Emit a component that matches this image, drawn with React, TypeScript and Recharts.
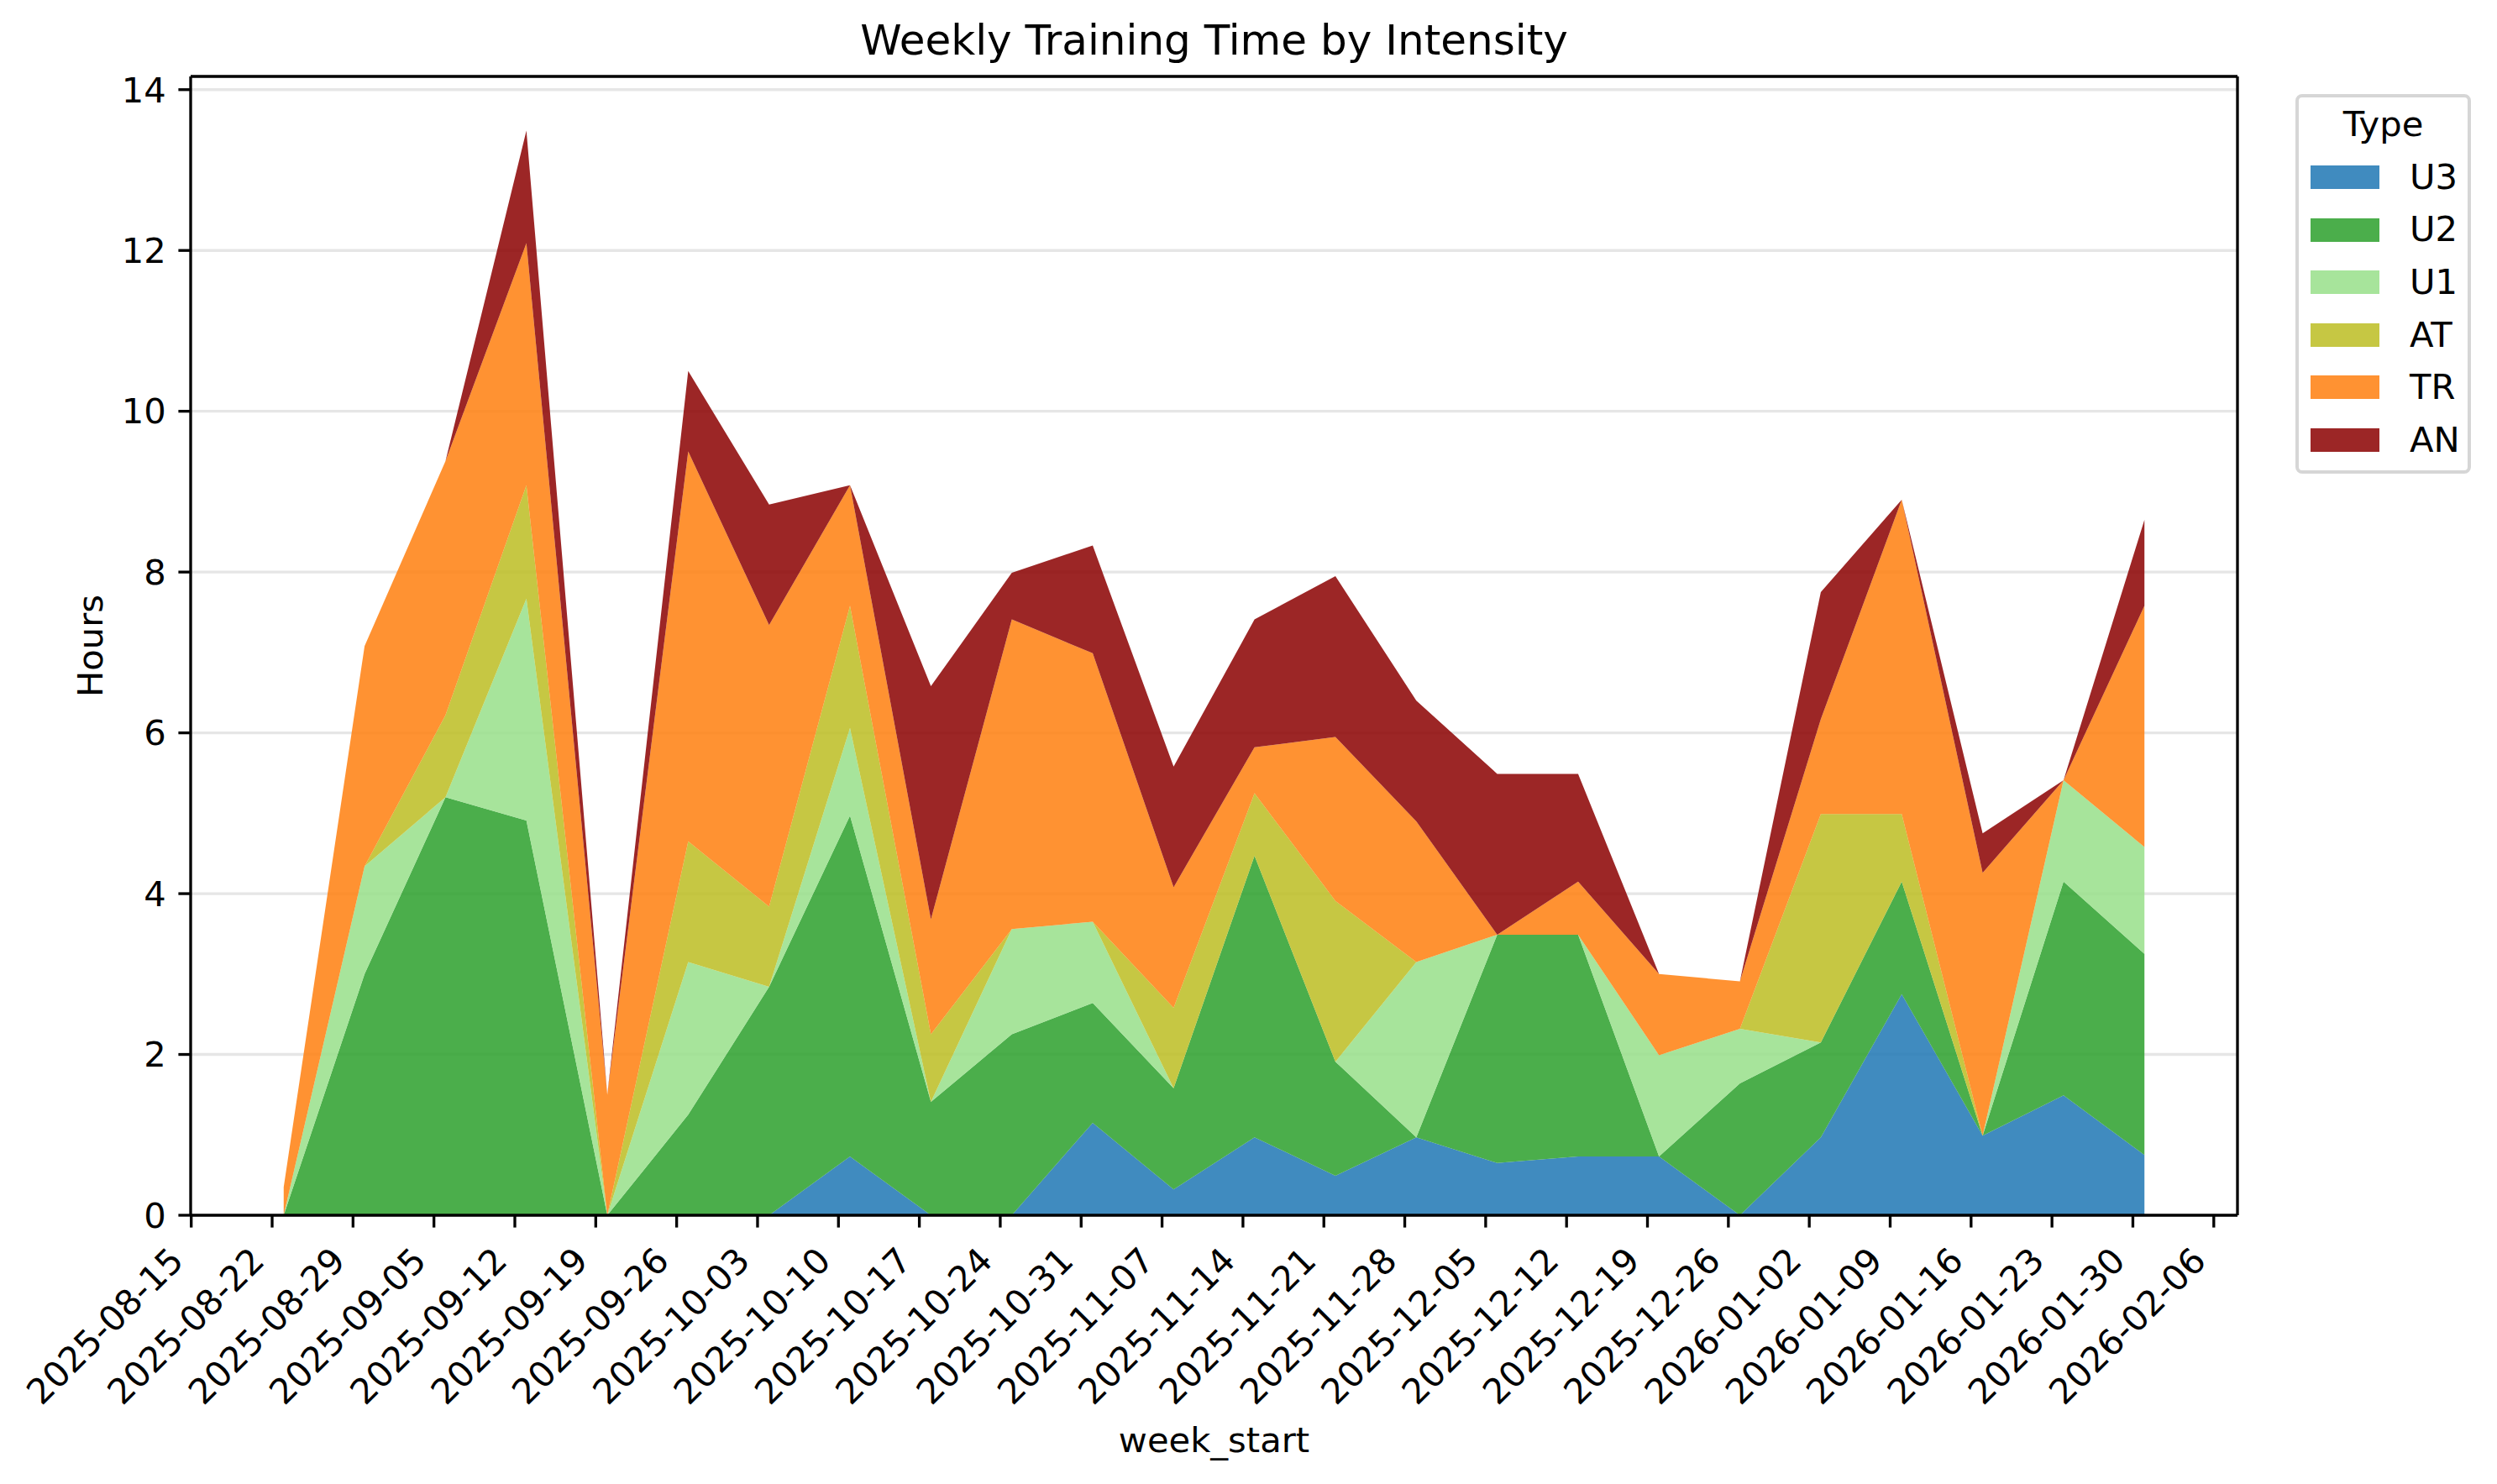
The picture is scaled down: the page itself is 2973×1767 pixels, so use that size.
import React from "react";
import { AreaChart, Area, XAxis, YAxis, CartesianGrid, Legend, ReferenceLine } from "recharts";

// weekly hours per intensity zone
const WEEK_START = [
  "2025-08-23", "2025-08-30", "2025-09-06", "2025-09-13", "2025-09-20", "2025-09-27",
  "2025-10-04", "2025-10-11", "2025-10-18", "2025-10-25", "2025-11-01", "2025-11-08",
  "2025-11-15", "2025-11-22", "2025-11-29", "2025-12-06", "2025-12-13", "2025-12-20",
  "2025-12-27", "2026-01-03", "2026-01-10", "2026-01-17", "2026-01-24", "2026-01-31",
];
const U3 = [0, 0, 0, 0, 0, 0, 0, 0.73, 0, 0, 1.15, 0.32, 0.97, 0.49, 0.97, 0.65, 0.73, 0.73, 0, 0.97, 2.75, 0.99, 1.49, 0.75];
const U2 = [0, 3.0, 5.2, 4.91, 0, 1.25, 2.84, 4.24, 1.41, 2.25, 1.49, 1.26, 3.5, 1.42, 0, 2.84, 2.76, 0, 1.64, 1.18, 1.4, 0, 2.66, 2.5];
const U1 = [0, 1.34, 0, 2.76, 0, 1.9, 0, 1.09, 0, 1.31, 1.01, 0, 0, 0, 2.18, 0, 0, 1.26, 0.68, 0, 0, 0, 1.26, 1.33];
const AT = [0, 0, 1.02, 1.41, 0, 1.5, 1.0, 1.52, 0.84, 0, 0, 1.0, 0.78, 2.0, 0, 0, 0, 0, 0, 2.84, 0.84, 0, 0, 0];
const TR = [0.35, 2.74, 3.16, 3.01, 1.5, 4.85, 3.5, 1.5, 1.43, 3.85, 3.34, 1.5, 0.57, 2.04, 1.75, 0, 0.66, 1.01, 0.59, 1.18, 3.91, 3.27, 0, 3.0];
const AN = [0, 0, 0, 1.4, 0, 1.0, 1.5, 0, 2.9, 0.58, 1.34, 1.5, 1.59, 2.0, 1.5, 2.0, 1.34, 0, 0, 1.58, 0, 0.49, 0, 1.07];

const TYPES = ["U3", "U2", "U1", "AT", "TR", "AN"];
const SERIES: Record<string, number[]> = { U3, U2, U1, AT, TR, AN };
const COLORS: Record<string, string> = {
  U3: "#1f77b4",
  U2: "#2ca02c",
  U1: "#98df8a",
  AT: "#bcbd22",
  TR: "#ff7f0e",
  AN: "#8b0000",
};

const TICK_DATES = [
  "2025-08-15", "2025-08-22", "2025-08-29", "2025-09-05", "2025-09-12", "2025-09-19",
  "2025-09-26", "2025-10-03", "2025-10-10", "2025-10-17", "2025-10-24", "2025-10-31",
  "2025-11-07", "2025-11-14", "2025-11-21", "2025-11-28", "2025-12-05", "2025-12-12",
  "2025-12-19", "2025-12-26", "2026-01-02", "2026-01-09", "2026-01-16", "2026-01-23",
  "2026-01-30", "2026-02-06",
];
const Y_TICKS = [0, 2, 4, 6, 8, 10, 12, 14];

const FONT = "DejaVu Sans";
const FS = 41.67;
const LW = 3.33;

const ORIGIN = Date.parse("2025-08-15T00:00:00Z");
const dayOf = (s: string) => (Date.parse(s + "T00:00:00Z") - ORIGIN) / 864e5;
const labelOf = (d: number) => new Date(ORIGIN + d * 864e5).toISOString().slice(0, 10);

const rows = WEEK_START.map((w, i) => {
  const row: Record<string, number | string> = { week: w, day: dayOf(w) };
  TYPES.forEach((t) => (row[t] = SERIES[t][i]));
  return row;
});

// matplotlib-style 5% x margins, sticky zero on y
const first = dayOf(WEEK_START[0]);
const last = dayOf(WEEK_START[WEEK_START.length - 1]);
const pad = (last - first) * 0.05;
const X_DOMAIN: [number, number] = [first - pad, last + pad];
const totals = WEEK_START.map((_, i) => TYPES.reduce((s, t) => s + SERIES[t][i], 0));
const Y_DOMAIN: [number, number] = [0, Math.max(...totals) * 1.05];

const DateTick = (props: any) => {
  const { x, y, payload } = props;
  const tx = x - 7;
  const ty = y + 42;
  return (
    <text x={tx} y={ty} transform={`rotate(-45 ${tx} ${ty})`} textAnchor="end" fontFamily={FONT} fontSize={FS} fill="#000">
      {labelOf(payload.value)}
    </text>
  );
};

const LegendBox = (props: any) => {
  const items = [...(props.payload || [])].sort((a, b) => TYPES.indexOf(a.value) - TYPES.indexOf(b.value));
  return (
    <div
      style={{
        boxSizing: "border-box",
        position: "relative",
        width: 209,
        height: 452,
        border: "4px solid #d6d6d6",
        borderRadius: 8,
        background: "rgba(255,255,255,0.8)",
        fontFamily: FONT,
        fontSize: FS,
        lineHeight: 1,
        color: "#000",
      }}
    >
      <div style={{ position: "absolute", left: 0, right: 0, top: 10.7, textAlign: "center" }}>Type</div>
      {items.map((p: any, i: number) => (
        <React.Fragment key={p.value}>
          <div
            style={{
              position: "absolute",
              left: 13.5,
              top: 81 + i * 62.6,
              width: 82.6,
              height: 28,
              background: COLORS[p.value],
              opacity: 0.85,
            }}
          />
          <div style={{ position: "absolute", left: 132, top: 73.7 + i * 62.6 }}>{p.value}</div>
        </React.Fragment>
      ))}
    </div>
  );
};

export default function App() {
  return (
    <div style={{ position: "absolute", left: 0, top: 0, width: 2973, height: 1767, background: "#fff", fontFamily: FONT }}>
      <div style={{ position: "absolute", left: 0, width: 2891, top: 22.7, textAlign: "center", fontSize: 50, lineHeight: 1 }}>
        Weekly Training Time by Intensity
      </div>
      <div style={{ position: "absolute", left: 0, width: 2891, top: 1694, textAlign: "center", fontSize: FS, lineHeight: 1 }}>
        week_start
      </div>
      <div
        style={{
          position: "absolute",
          left: 107.6,
          top: 769,
          fontSize: FS,
          lineHeight: 1,
          transform: "translate(-50%, -50%) rotate(-90deg)",
          whiteSpace: "nowrap",
        }}
      >
        Hours
      </div>
      <div style={{ position: "absolute", left: 0, top: 0 }}>
        <AreaChart width={2973} height={1767} data={rows} margin={{ top: 91, right: 309, bottom: 0, left: 0 }}>
          <CartesianGrid horizontal vertical={false} stroke="#e6e6e6" strokeWidth={LW} />
          {TYPES.map((t) => (
            <Area
              key={t}
              type="linear"
              dataKey={t}
              name={t}
              stackId="hours"
              stroke="none"
              fill={COLORS[t]}
              fillOpacity={0.85}
              isAnimationActive={false}
            />
          ))}
          {/* top and right spines */}
          <ReferenceLine y={Y_DOMAIN[1]} stroke="#000" strokeWidth={LW} ifOverflow="visible" />
          <ReferenceLine x={X_DOMAIN[1]} stroke="#000" strokeWidth={LW} ifOverflow="visible" />
          <XAxis
            dataKey="day"
            type="number"
            domain={X_DOMAIN}
            allowDataOverflow
            ticks={TICK_DATES.map(dayOf)}
            interval={0}
            height={320}
            tickSize={14.6}
            tickMargin={0}
            tickLine={{ stroke: "#000", strokeWidth: LW }}
            axisLine={{ stroke: "#000", strokeWidth: LW }}
            tick={<DateTick />}
          />
          <YAxis
            type="number"
            domain={Y_DOMAIN}
            allowDataOverflow
            ticks={Y_TICKS}
            interval={0}
            width={227}
            tickSize={14.6}
            tickMargin={14.6}
            tickLine={{ stroke: "#000", strokeWidth: LW }}
            axisLine={{ stroke: "#000", strokeWidth: LW }}
            tick={{ fill: "#000", fontSize: FS, fontFamily: FONT }}
          />
          <Legend
            layout="horizontal"
            verticalAlign="middle"
            align="center"
            wrapperStyle={{ left: 2733, top: 112, width: 209, height: 452 }}
            content={<LegendBox />}
          />
        </AreaChart>
      </div>
    </div>
  );
}
